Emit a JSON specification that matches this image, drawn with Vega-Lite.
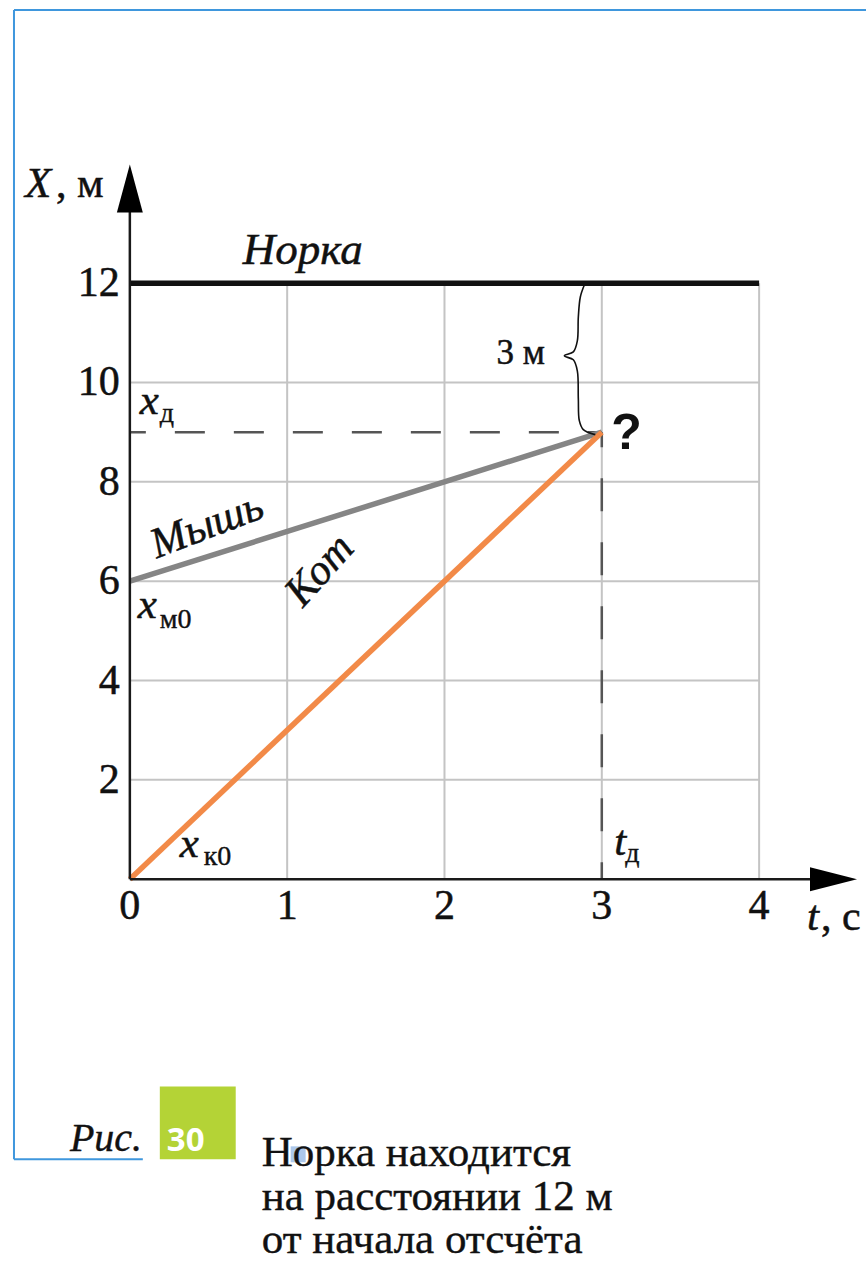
{
  "$schema": "https://vega.github.io/schema/vega-lite/v6.json",
  "width": 867,
  "height": 1263,
  "autosize": {"type": "fit", "contains": "padding"},
  "padding": 0,
  "background": "white",
  "config": {"view": {"stroke": null}},
  "encoding": {
    "x": {"field": "t", "type": "quantitative", "axis": null,
          "scale": {"domain": [-0.8254, 4.6794], "nice": false, "zero": false}},
    "y": {"field": "x", "type": "quantitative", "axis": null,
          "scale": {"domain": [-7.646, 17.7], "nice": false, "zero": false}}
  },
  "layer": [
    {
      "description": "page frame",
      "data": {"values": [
        {"t": -0.7365, "x": 17.499, "t2": -0.7365, "x2": -5.639},
        {"t": -0.7365, "x": 17.499, "t2": 4.6794, "x2": 17.499},
        {"t": -0.7365, "x": -5.639, "t2": 0.0825, "x2": -5.639}
      ]},
      "mark": {"type": "rule", "color": "#3f97dd", "strokeWidth": 2},
      "encoding": {"x2": {"field": "t2"}, "y2": {"field": "x2"}}
    },
    {
      "description": "grid",
      "data": {"values": [
        {"t": 1, "x": 0, "t2": 1, "x2": 12},
        {"t": 2, "x": 0, "t2": 2, "x2": 12},
        {"t": 3, "x": 0, "t2": 3, "x2": 12},
        {"t": 4, "x": 0, "t2": 4, "x2": 12},
        {"t": 0, "x": 2, "t2": 4, "x2": 2},
        {"t": 0, "x": 4, "t2": 4, "x2": 4},
        {"t": 0, "x": 6, "t2": 4, "x2": 6},
        {"t": 0, "x": 8, "t2": 4, "x2": 8},
        {"t": 0, "x": 10, "t2": 4, "x2": 10}
      ]},
      "mark": {"type": "rule", "color": "#c4c4c4", "strokeWidth": 2},
      "encoding": {"x2": {"field": "t2"}, "y2": {"field": "x2"}}
    },
    {
      "description": "meeting position x_d",
      "data": {"values": [{"t": 0, "x": 9, "t2": 3, "x2": 9}]},
      "mark": {"type": "rule", "color": "#555555", "strokeWidth": 2.5, "strokeDash": [30, 29], "strokeDashOffset": 14},
      "encoding": {"x2": {"field": "t2"}, "y2": {"field": "x2"}}
    },
    {
      "description": "meeting time t_d",
      "data": {"values": [{"t": 3, "x": 9, "t2": 3, "x2": 0}]},
      "mark": {"type": "rule", "color": "#555555", "strokeWidth": 2.5, "strokeDash": [33, 31], "strokeDashOffset": 18},
      "encoding": {"x2": {"field": "t2"}, "y2": {"field": "x2"}}
    },
    {
      "description": "motion graphs",
      "data": {"values": [
        {"who": "Норка", "t": 0, "x": 12},
        {"who": "Норка", "t": 4, "x": 12},
        {"who": "Мышь", "t": 0, "x": 6},
        {"who": "Мышь", "t": 3, "x": 9},
        {"who": "Кот", "t": 0, "x": 0},
        {"who": "Кот", "t": 3, "x": 9}
      ]},
      "mark": {"type": "line", "strokeWidth": 5.5, "strokeCap": "butt"},
      "encoding": {
        "color": {"field": "who", "type": "nominal", "legend": null,
                  "scale": {"domain": ["Норка", "Мышь", "Кот"], "range": ["#111111", "#858585", "#f28a48"]}}
      }
    },
    {
      "description": "axes",
      "data": {"values": [
        {"t": 0, "x": 0, "t2": 0, "x2": 13.45},
        {"t": 0, "x": 0, "t2": 4.33, "x2": 0}
      ]},
      "mark": {"type": "rule", "color": "#1a1a1a", "strokeWidth": 2.5},
      "encoding": {"x2": {"field": "t2"}, "y2": {"field": "x2"}}
    },
    {
      "description": "arrow of the X axis",
      "data": {"values": [{"t": 0, "x": 13.907}]},
      "mark": {"type": "point", "filled": true, "color": "#000000", "opacity": 1,
               "shape": "M 0 -1 L 0.54 1 L -0.54 1 Z", "size": 2304}
    },
    {
      "description": "arrow of the t axis",
      "data": {"values": [{"t": 4.473, "x": 0}]},
      "mark": {"type": "point", "filled": true, "color": "#000000", "opacity": 1,
               "shape": "M 1 0 L -1 0.51 L -1 -0.51 Z", "size": 2209}
    },
    {
      "description": "brace for 3 m",
      "data": {"values": [
        {"i": 1, "t": 2.8889, "x": 11.961},
        {"i": 2, "t": 2.8635, "x": 11.72},
        {"i": 3, "t": 2.8508, "x": 11.318},
        {"i": 4, "t": 2.8444, "x": 10.837},
        {"i": 5, "t": 2.819, "x": 10.616},
        {"i": 6, "t": 2.7619, "x": 10.536},
        {"i": 7, "t": 2.819, "x": 10.456},
        {"i": 8, "t": 2.8444, "x": 10.235},
        {"i": 9, "t": 2.8508, "x": 9.673},
        {"i": 10, "t": 2.8571, "x": 9.231},
        {"i": 11, "t": 2.8825, "x": 9.051},
        {"i": 12, "t": 2.9587, "x": 8.95}
      ]},
      "mark": {"type": "line", "color": "#111111", "strokeWidth": 1.6, "interpolate": "catmull-rom"},
      "encoding": {"order": {"field": "i", "type": "quantitative"}}
    },
    {
      "description": "X tick labels",
      "data": {"values": [
        {"t": -0.0635, "x": 2, "label": "2"}, {"t": -0.0635, "x": 4, "label": "4"},
        {"t": -0.0635, "x": 6, "label": "6"}, {"t": -0.0635, "x": 8, "label": "8"},
        {"t": -0.0635, "x": 10, "label": "10"}, {"t": -0.0635, "x": 12, "label": "12"}
      ]},
      "mark": {"type": "text", "font": "'Liberation Serif', 'DejaVu Serif', serif", "fontSize": 42, "align": "right", "baseline": "alphabetic", "dy": 13, "color": "#111111", "stroke": "#111111", "strokeWidth": 0.5},
      "encoding": {"text": {"field": "label"}}
    },
    {
      "description": "t tick labels",
      "data": {"values": [
        {"t": 0, "x": -0.803, "label": "0"}, {"t": 1, "x": -0.803, "label": "1"},
        {"t": 2, "x": -0.803, "label": "2"}, {"t": 3, "x": -0.803, "label": "3"},
        {"t": 4, "x": -0.803, "label": "4"}
      ]},
      "mark": {"type": "text", "font": "'Liberation Serif', 'DejaVu Serif', serif", "fontSize": 42, "align": "center", "baseline": "alphabetic", "color": "#111111", "stroke": "#111111", "strokeWidth": 0.5},
      "encoding": {"text": {"field": "label"}}
    },
    {
      "description": "burrow label",
      "data": {"values": [{"t": 0.7175, "x": 12.382, "label": "Норка"}]},
      "mark": {"type": "text", "font": "'Liberation Serif', 'DejaVu Serif', serif", "fontStyle": "italic", "fontSize": 45, "align": "left", "baseline": "alphabetic", "color": "#111111", "stroke": "#111111", "strokeWidth": 0.5},
      "encoding": {"text": {"field": "label"}}
    },
    {
      "description": "italic letters",
      "data": {"values": [
        {"t": -0.6667, "x": 13.727, "label": "X"},
        {"t": 4.3048, "x": -1.0235, "label": "t"},
        {"t": 0.0635, "x": 9.372, "label": "x"},
        {"t": 0.0508, "x": 5.258, "label": "x"},
        {"t": 0.3175, "x": 0.4415, "label": "x"},
        {"t": 3.079, "x": 0.4816, "label": "t"}
      ]},
      "mark": {"type": "text", "font": "'Liberation Serif', 'DejaVu Serif', serif", "fontStyle": "italic", "fontSize": 43, "align": "left", "baseline": "alphabetic", "color": "#111111", "stroke": "#111111", "strokeWidth": 0.5},
      "encoding": {"text": {"field": "label"}}
    },
    {
      "description": "units of the axes",
      "data": {"values": [
        {"t": -0.4698, "x": 13.727, "label": ", м"},
        {"t": 4.3937, "x": -1.0235, "label": ", с"}
      ]},
      "mark": {"type": "text", "font": "'Liberation Serif', 'DejaVu Serif', serif", "fontSize": 42, "align": "left", "baseline": "alphabetic", "color": "#111111", "stroke": "#111111", "strokeWidth": 0.5},
      "encoding": {"text": {"field": "label"}}
    },
    {
      "description": "subscripts",
      "data": {"values": [
        {"t": 0.1905, "x": 9.211, "label": "д"},
        {"t": 0.1905, "x": 5.057, "label": "м0"},
        {"t": 0.4698, "x": 0.281, "label": "к0"},
        {"t": 3.149, "x": 0.341, "label": "д"}
      ]},
      "mark": {"type": "text", "font": "'Liberation Serif', 'DejaVu Serif', serif", "fontSize": 28, "align": "left", "baseline": "alphabetic", "color": "#111111", "stroke": "#111111", "strokeWidth": 0.4},
      "encoding": {"text": {"field": "label"}}
    },
    {
      "description": "distance to the burrow",
      "data": {"values": [{"t": 2.33, "x": 10.375, "label": "3 м"}]},
      "mark": {"type": "text", "font": "'Liberation Serif', 'DejaVu Serif', serif", "fontSize": 35, "align": "left", "baseline": "alphabetic", "color": "#111111", "stroke": "#111111", "strokeWidth": 0.5},
      "encoding": {"text": {"field": "label"}}
    },
    {
      "description": "question mark",
      "data": {"values": [{"t": 3.06, "x": 8.669, "label": "?"}]},
      "mark": {"type": "text", "font": "'Liberation Sans', sans-serif", "fontWeight": "bold", "fontSize": 50, "align": "left", "baseline": "alphabetic", "color": "#111111"},
      "encoding": {"text": {"field": "label"}}
    },
    {
      "description": "mouse label",
      "data": {"values": [{"t": 0.4889, "x": 7.124, "label": "Мышь"}]},
      "mark": {"type": "text", "font": "'Liberation Serif', 'DejaVu Serif', serif", "fontStyle": "italic", "fontSize": 43, "align": "center", "baseline": "middle", "angle": -21, "color": "#111111", "stroke": "#111111", "strokeWidth": 0.5},
      "encoding": {"text": {"field": "label"}}
    },
    {
      "description": "cat label",
      "data": {"values": [{"t": 1.2063, "x": 6.221, "label": "Кот"}]},
      "mark": {"type": "text", "font": "'Liberation Serif', 'DejaVu Serif', serif", "fontStyle": "italic", "fontSize": 43, "align": "center", "baseline": "middle", "angle": -48, "color": "#111111", "stroke": "#111111", "strokeWidth": 0.5},
      "encoding": {"text": {"field": "label"}}
    },
    {
      "description": "figure number badge",
      "data": {"values": [{"t": 0.1905, "x": -4.1742, "t2": 0.673, "x2": -5.6392}]},
      "mark": {"type": "rect", "color": "#b4d336"},
      "encoding": {"x2": {"field": "t2"}, "y2": {"field": "x2"}}
    },
    {
      "description": "figure number",
      "data": {"values": [{"t": 0.2349, "x": -5.4786, "label": "30"}]},
      "mark": {"type": "text", "font": "'Open Sans', sans-serif", "fontWeight": "bold", "fontSize": 33, "align": "left", "baseline": "alphabetic", "color": "#ffffff"},
      "encoding": {"text": {"field": "label"}}
    },
    {
      "description": "figure prefix",
      "data": {"values": [{"t": -0.381, "x": -5.4786, "label": "Рис."}]},
      "mark": {"type": "text", "font": "'Liberation Serif', 'DejaVu Serif', serif", "fontStyle": "italic", "fontSize": 40, "align": "left", "baseline": "alphabetic", "color": "#111111", "stroke": "#111111", "strokeWidth": 0.4},
      "encoding": {"text": {"field": "label"}}
    },
    {
      "description": "selection mark",
      "data": {"values": [{"t": 1.0222, "x": -5.378, "t2": 1.1175, "x2": -5.699}]},
      "mark": {"type": "rect", "color": "#5a8fd6", "opacity": 0.5},
      "encoding": {"x2": {"field": "t2"}, "y2": {"field": "x2"}}
    },
    {
      "description": "caption",
      "data": {"values": [
        {"t": 0.8381, "x": -5.7797, "label": "Норка находится"},
        {"t": 0.8381, "x": -6.6627, "label": "на расстоянии 12 м"},
        {"t": 0.8381, "x": -7.5256, "label": "от начала отсчёта"}
      ]},
      "mark": {"type": "text", "font": "'Liberation Serif', 'DejaVu Serif', serif", "fontSize": 43, "align": "left", "baseline": "alphabetic", "color": "#111111", "stroke": "#111111", "strokeWidth": 0.4},
      "encoding": {"text": {"field": "label"}}
    }
  ]
}
